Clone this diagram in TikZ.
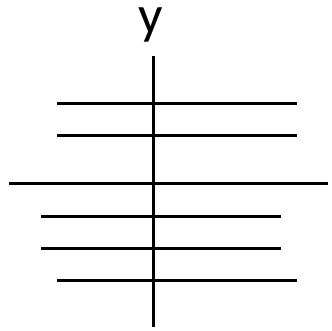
\documentclass[tikz,border=0pt]{standalone}
\usepackage{fontspec}
\setmainfont{Carlito}

\begin{document}
\begin{tikzpicture}[x=1pt,y=-1pt]

\tikzset{
  axis line/.style={
    line width=3pt,
  },
  rung line/.style={
    line width=3pt,
  },
  axis label/.style={
    inner sep=0pt,
    outer sep=0pt,
    font=\fontsize{54}{54}\selectfont,
  }
}

\useasboundingbox (0,0) rectangle (332,330);

% Label
\node[axis label, anchor=base] (ylab) at (151,33) {y};

% Axis
\coordinate (axtop) at (153,56);
\coordinate (axbot) at (153,327);
\draw[axis line] (axtop) -- (axbot);

% Rungs (left end, right end)
\coordinate (r1l) at (57,103.5);  \coordinate (r1r) at (297,103.5);
\coordinate (r2l) at (57,135.5);  \coordinate (r2r) at (297,135.5);
\coordinate (r3l) at (9,183.5);   \coordinate (r3r) at (328,183.5);
\coordinate (r4l) at (41,216);    \coordinate (r4r) at (281,216);
\coordinate (r5l) at (41,248);    \coordinate (r5r) at (281,248);
\coordinate (r6l) at (57,280);    \coordinate (r6r) at (297,280);

\draw[rung line] (r1l) -- (r1r);
\draw[rung line] (r2l) -- (r2r);
\draw[rung line] (r3l) -- (r3r);
\draw[rung line] (r4l) -- (r4r);
\draw[rung line] (r5l) -- (r5r);
\draw[rung line] (r6l) -- (r6r);

\end{tikzpicture}
\end{document}
